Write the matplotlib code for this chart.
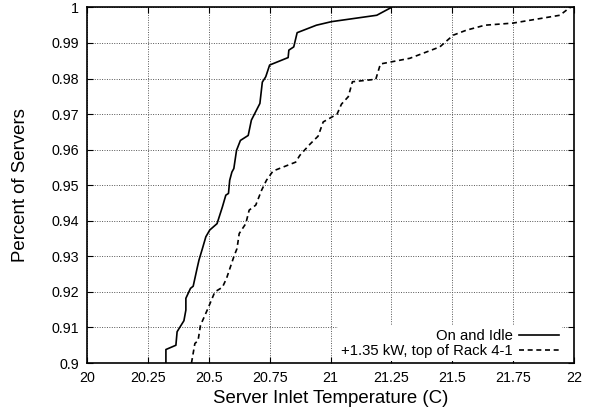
import numpy as np
import matplotlib.pyplot as plt

plt.rcParams['font.family'] = ['Liberation Sans', 'DejaVu Sans']

# On and Idle (temperature, cumulative fraction)
idle_t = [20.324, 20.324, 20.365, 20.370, 20.378, 20.398, 20.406, 20.406, 20.425, 20.436,
          20.452, 20.460, 20.474, 20.488, 20.504, 20.534, 20.556, 20.570, 20.581, 20.586,
          20.595, 20.603, 20.614, 20.630, 20.662, 20.675, 20.710, 20.720, 20.734, 20.750,
          20.826, 20.829, 20.849, 20.863, 20.942, 21.004, 21.190, 21.250]
idle_p = [0.9000, 0.9038, 0.9050, 0.9088, 0.9097, 0.9119, 0.9149, 0.9182, 0.9210, 0.9216,
          0.9266, 0.9290, 0.9322, 0.9355, 0.9374, 0.9392, 0.9439, 0.9472, 0.9477, 0.9514,
          0.9537, 0.9547, 0.9598, 0.9626, 0.9640, 0.9683, 0.9730, 0.9790, 0.9805, 0.9838,
          0.9859, 0.9880, 0.9889, 0.9929, 0.9950, 0.9960, 0.9978, 1.0000]

# +1.35 kW, top of Rack 4-1
rack_t = [20.429, 20.443, 20.456, 20.466, 20.497, 20.525, 20.556, 20.573, 20.603, 20.616,
          20.625, 20.652, 20.666, 20.693, 20.717, 20.737, 20.764, 20.857, 20.874, 20.915,
          20.949, 20.970, 21.027, 21.045, 21.073, 21.090, 21.186, 21.205, 21.326, 21.449,
          21.504, 21.558, 21.634, 21.750, 21.942, 21.976, 21.985]
rack_p = [0.9000, 0.9055, 0.9063, 0.9106, 0.9154, 0.9200, 0.9213, 0.9238, 0.9299, 0.9322,
          0.9364, 0.9392, 0.9430, 0.9444, 0.9486, 0.9514, 0.9540, 0.9565, 0.9584, 0.9615,
          0.9638, 0.9678, 0.9700, 0.9728, 0.9749, 0.9791, 0.9798, 0.9841, 0.9857, 0.9889,
          0.9922, 0.9936, 0.9950, 0.9956, 0.9978, 0.9996, 1.0000]

x_ticks = [20, 20.25, 20.5, 20.75, 21, 21.25, 21.5, 21.75, 22]
y_ticks = [0.9, 0.91, 0.92, 0.93, 0.94, 0.95, 0.96, 0.97, 0.98, 0.99, 1.0]

fig = plt.figure(figsize=(5.94, 4.13), dpi=100)
ax = fig.add_axes([0.1465, 0.121, 0.8198, 0.861])

ax.plot(idle_t, idle_p, color='black', lw=1.2, label='On and Idle')
ax.plot(rack_t, rack_p, color='black', lw=1.2, dashes=(3, 2.2), label='+1.35 kW, top of Rack 4-1')

ax.set_xlim(20, 22)
ax.set_ylim(0.9, 1.0)
ax.set_xticks(x_ticks)
ax.set_xticklabels(['%g' % v for v in x_ticks])
ax.set_yticks(y_ticks)
ax.set_yticklabels(['%g' % v for v in y_ticks])
ax.tick_params(direction='in', length=4, width=0.8, top=True, right=True, labelsize=10.3, pad=6)
ax.grid(True, color='#555555', linestyle=(0, (1, 1.5)), linewidth=0.7)
for s in ax.spines.values():
    s.set_linewidth(1.2)

ax.set_xlabel('Server Inlet Temperature (C)', fontsize=13.4, labelpad=3)
ax.set_ylabel('Percent of Servers', fontsize=13.4, labelpad=16)

leg = ax.legend(loc='lower right', bbox_to_anchor=(1.0, -0.028), markerfirst=False,
                frameon=True, fontsize=10.75,
                handlelength=2.7, handletextpad=0.4, labelspacing=0.07,
                borderpad=0.2, borderaxespad=0.8, fancybox=False)
leg.get_frame().set_edgecolor('none')
leg.get_frame().set_facecolor('white')
leg.get_frame().set_alpha(1)

fig.savefig('out.png', dpi=100)
